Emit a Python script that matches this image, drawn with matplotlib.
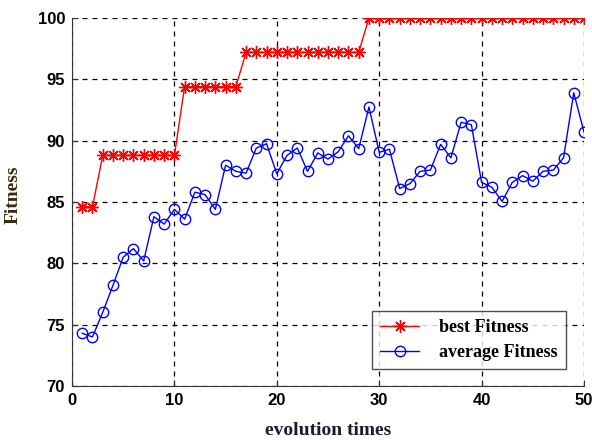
import numpy as np
import matplotlib
matplotlib.use('Agg')
import matplotlib.pyplot as plt

# datos
generaciones = np.arange(1, 51)
best_fitness = [84.6] * 2 + [88.8] * 8 + [94.4] * 6 + [97.2] * 12 + [100.0] * 22
avg_fitness = [74.3, 74.0, 76.0, 78.2, 80.5, 81.2, 80.2, 83.8, 83.2, 84.4,
               83.6, 85.8, 85.6, 84.4, 88.0, 87.5, 87.35, 89.4, 89.75, 87.3,
               88.8, 89.4, 87.5, 89.0, 88.5, 89.1, 90.4, 89.35, 92.75, 89.05,
               89.3, 86.1, 86.5, 87.5, 87.6, 89.7, 88.6, 91.5, 91.3, 86.6,
               86.2, 85.05, 86.6, 87.15, 86.7, 87.5, 87.6, 88.6, 93.9, 90.7]

fig = plt.figure(figsize=(5.92, 4.41), dpi=100)
ax = fig.add_axes([0.1216, 0.1247, 0.8649, 0.8345])

# asterisco estilo matlab (+ y x)
ax.plot(generaciones, best_fitness, color='red', marker=(8, 2, 0), markersize=9,
        markeredgewidth=1, linewidth=1, label='best Fitness')
ax.plot(generaciones, avg_fitness, color='blue', marker='o', markersize=7.5,
        markerfacecolor='none', markeredgewidth=1, linewidth=1, label='average Fitness')

ax.set_xlim(0, 50)
ax.set_ylim(70, 100)
ax.set_xticks(range(0, 51, 10))
ax.set_yticks(range(70, 101, 5))
ax.grid(True, color='black', linestyle=(0, (4, 4)), linewidth=0.9)
ax.spines['top'].set_visible(False)
ax.spines['right'].set_visible(False)
ax.spines['left'].set_color('#333333')
ax.spines['bottom'].set_color('#333333')
ax.tick_params(direction='in', length=4, color='#333333', pad=5)
for lab in ax.get_xticklabels() + ax.get_yticklabels():
    lab.set_fontfamily('Liberation Sans')
    lab.set_fontweight('bold')
    lab.set_fontsize(12)

ax.set_xlabel('evolution times', family='Liberation Serif', fontweight='bold',
              fontsize=14, color='#1a1a2a', labelpad=10)
ax.set_ylabel('Fitness', family='Liberation Serif', fontweight='bold',
              fontsize=14, color='#3a2a10')
ax.yaxis.set_label_coords(-0.098, 0.52)

leg = ax.legend(loc='lower right', bbox_to_anchor=(0.965, 0.045),
                prop={'family': 'Liberation Serif', 'weight': 'bold', 'size': 13},
                frameon=True, fancybox=False, edgecolor='#222222',
                handlelength=2.2, handletextpad=1.1, borderpad=0.45, labelspacing=0.45,
                borderaxespad=0)
leg.get_frame().set_linewidth(1.0)

fig.savefig('out.png', dpi=100)
